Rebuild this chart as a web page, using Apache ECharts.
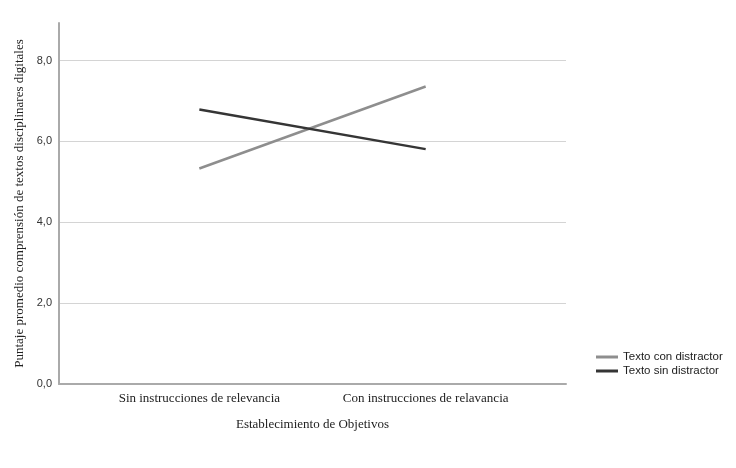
<!DOCTYPE html>
<html>
<head>
<meta charset="utf-8">
<script src="https://cdn.jsdelivr.net/npm/echarts@6/dist/echarts.min.js"></script>
<style>
  html, body { margin: 0; padding: 0; background: #fff; }
  #main { width: 736px; height: 468px; }
</style>
</head>
<body>
<div id="main"></div>
<script>
// categorias del eje X y medias por grupo
var categories = ['Sin instrucciones de relevancia', 'Con instrucciones de relavancia'];
var conDistractor = [5.33, 7.36];
var sinDistractor = [6.79, 5.81];
var yTicks = [0, 2, 4, 6, 8];

function toPoints(vals) {
  return vals.map(function (v, i) { return [i, v]; });
}

var myChart = echarts.init(document.getElementById('main'));
var option = {
  animation: false,
  backgroundColor: '#fff',
  grid: { left: 59, right: 170, top: 23, bottom: 84 },
  legend: {
    orient: 'vertical',
    left: 591,
    top: 346,
    itemWidth: 22,
    itemHeight: 3,
    itemGap: 2,
    textStyle: { fontFamily: 'Liberation Sans', fontSize: 11.5, color: '#222' },
    data: [
      { name: 'Texto con distractor', icon: 'rect' },
      { name: 'Texto sin distractor', icon: 'rect' }
    ]
  },
  xAxis: {
    type: 'value',
    min: -0.62,
    max: 1.62,
    name: 'Establecimiento de Objetivos',
    nameLocation: 'middle',
    nameGap: 34,
    nameTextStyle: { fontFamily: 'Liberation Serif', fontSize: 13, color: '#222' },
    axisLine: { show: true, onZero: false, lineStyle: { color: '#aaa', width: 2 } },
    axisTick: { show: false },
    splitLine: { show: false },
    axisLabel: {
      customValues: [0, 1],
      margin: 8,
      fontFamily: 'Liberation Serif',
      fontSize: 13,
      color: '#222',
      formatter: function (v) { return categories[Math.round(v)]; }
    }
  },
  yAxis: {
    type: 'value',
    min: 0,
    max: 8.93,
    interval: 2,
    name: 'Puntaje promedio comprensión de textos disciplinares digitales',
    nameLocation: 'middle',
    nameGap: 30,
    nameTextStyle: { fontFamily: 'Liberation Serif', fontSize: 13, color: '#222' },
    axisLine: { show: true, onZero: false, lineStyle: { color: '#aaa', width: 2 } },
    axisTick: { show: false },
    splitLine: { show: true, showMinLine: false, showMaxLine: false, lineStyle: { color: '#d4d4d4', width: 1 } },
    axisLabel: {
      customValues: yTicks,
      margin: 7,
      fontFamily: 'Liberation Sans',
      fontSize: 11,
      color: '#333',
      formatter: function (v) { return v.toFixed(1).replace('.', ','); }
    }
  },
  series: [
    {
      name: 'Texto con distractor',
      type: 'line',
      symbol: 'none',
      color: '#8e8e8e',
      lineStyle: { width: 2.5, color: '#8e8e8e' },
      data: toPoints(conDistractor)
    },
    {
      name: 'Texto sin distractor',
      type: 'line',
      symbol: 'none',
      color: '#353535',
      lineStyle: { width: 2.5, color: '#353535' },
      data: toPoints(sinDistractor)
    }
  ]
};
myChart.setOption(option);
</script>
</body>
</html>
